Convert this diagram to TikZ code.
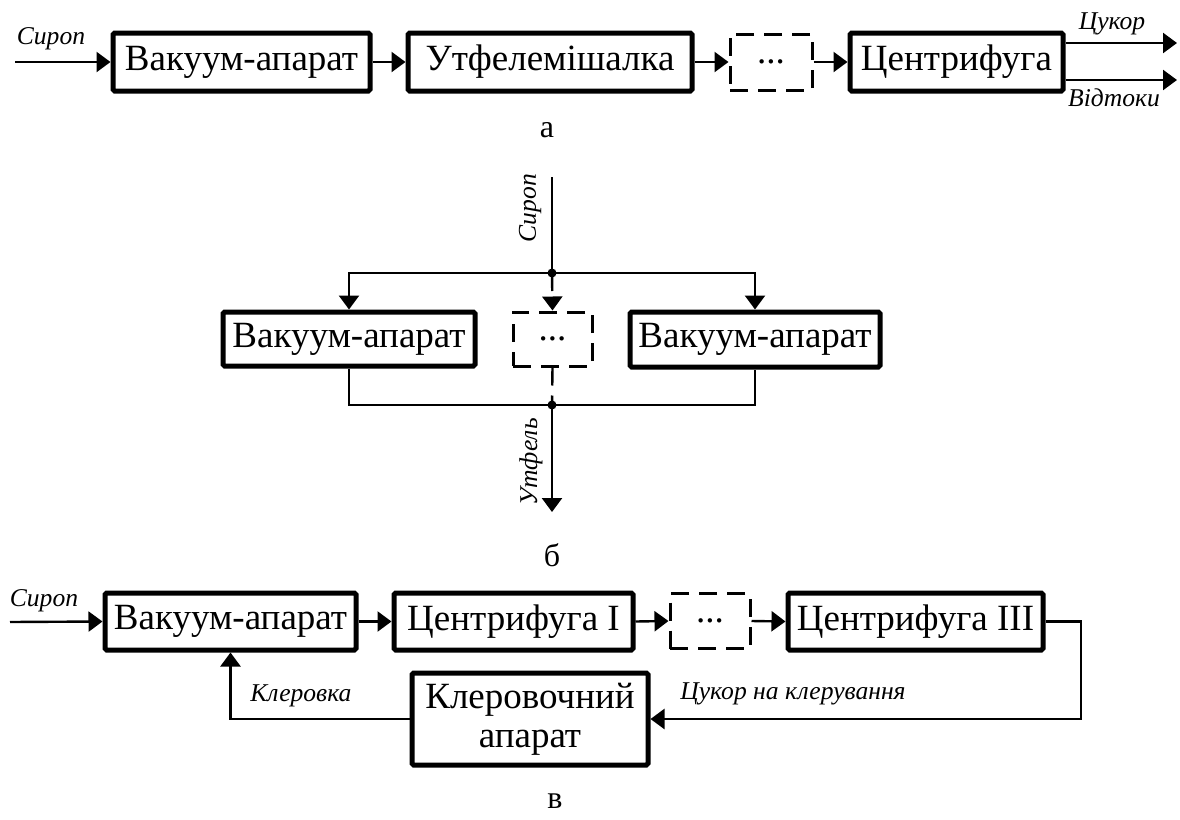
\documentclass[tikz,border=0pt]{standalone}
\usepackage{fontspec}
\setmainfont{Liberation Serif}
\usetikzlibrary{arrows.meta}
\tikzset{
  box/.style={draw, line width=2.5pt, rounded corners=0.8pt, fill=white, inner sep=0pt,
    font=\fontsize{18.5}{19.5}\selectfont, align=center},
  dbox/.style={draw, line width=1.5pt, dash pattern=on 9pt off 5pt, inner sep=0pt,
    font=\fontsize{18.5}{19.5}\selectfont},
  conn/.style={line width=1.2pt},
  arr/.style={conn, -{Triangle[length=7pt,width=10pt]}},
  lbl/.style={font=\fontsize{12.8}{13}\selectfont\itshape, inner sep=0pt},
  sub/.style={font=\fontsize{16}{17}\selectfont, inner sep=0pt},
  dot/.style={fill, circle, inner sep=0pt, minimum size=4.5pt}
}
\begin{document}
\begin{tikzpicture}[x=0.5pt,y=-0.5pt]
\useasboundingbox (0,0) rectangle (1180,820);
% ---------- a ----------
\node[box, minimum width=128.5pt, minimum height=29pt] (a1) at (241.5,62) {Вакуум-апарат};
\node[box, minimum width=142pt, minimum height=29pt] (a2) at (550,62) {Утфелемішалка};
\node[dbox, minimum width=41pt, minimum height=28pt] (ad) at (771,62) {...};
\node[box, minimum width=106.5pt, minimum height=29pt] (a3) at (956.5,62) {Центрифуга};
\coordinate (ain) at (15,62);
\coordinate (aout1) at (1177,43);
\coordinate (aout2) at (1177,80);
\draw[arr] (ain) -- (a1.west);
\draw[arr] (a1.east) -- (a2.west);
\draw[arr] (a2.east) -- (ad.west);
\draw[arr] (ad.east) -- (a3.west);
\draw[arr] (a3.east |- aout1) -- (aout1);
\draw[arr] (a3.east |- aout2) -- (aout2);
\node[lbl] (la1) at (51,39) {Сироп};
\node[lbl] (la2) at (1112,24) {Цукор};
\node[lbl] (la3) at (1114,98) {Відтоки};
\node[sub] (sa) at (547,130) {а};
% ---------- b ----------
\coordinate (bin) at (552,177);
\node[dot] (bj1) at (552,273) {};
\node[box, minimum width=126pt, minimum height=27pt] (b1) at (349,339) {Вакуум-апарат};
\node[dbox, minimum width=39.5pt, minimum height=27pt] (bd) at (552.5,339) {...};
\node[box, minimum width=125pt, minimum height=27.5pt] (b2) at (755,339.5) {Вакуум-апарат};
\node[dot] (bj2) at (552,405) {};
\coordinate (bout) at (552,512);
\draw[conn] (bin) -- (bj1.center);
\draw[arr] (bj1.center) -| (b1.north);
\draw[arr] (bj1.center) -| (b2.north);
\draw[arr, dash pattern=on 9pt off 5pt] (bj1.center) -- (bd.north);
\draw[conn] (b1.south) |- (bj2.center) -| (b2.south);
\draw[conn, dash pattern=on 9pt off 5pt] (bd.south) -- (bj2.center);
\draw[arr] (bj2.center) -- (bout);
\node[lbl, rotate=90] (lb1) at (530,208) {Сироп};
\node[lbl, rotate=90] (lb2) at (531,462) {Утфель};
\node[sub] (sb) at (552,555) {б};
% ---------- c ----------
\node[box, minimum width=125.5pt, minimum height=28.5pt] (c1) at (230.5,621.5) {Вакуум-апарат};
\node[box, minimum width=119.5pt, minimum height=28.5pt] (c2) at (513.5,621.5) {Центрифуга I};
\node[dbox, minimum width=40pt, minimum height=27.5pt] (cd) at (710,621) {...};
\node[box, minimum width=127.5pt, minimum height=28.5pt] (c3) at (915.5,621.5) {Центрифуга III};
\node[box, minimum width=118pt, minimum height=46pt] (c4) at (530,719) {Клеровочний\\апарат};
\coordinate (cin) at (10,622);
\coordinate (ccr) at (1081,719);
\draw[arr] (cin) -- (c1.west);
\draw[arr] (c1.east) -- (c2.west);
\draw[arr] (c2.east) -- (cd.west);
\draw[arr] (cd.east) -- (c3.west);
\draw[arr] (c3.east) -| (ccr) -- (c4.east);
\draw[arr] (c4.west) -| (c1.south);
\node[lbl] (lc1) at (44,601) {Сироп};
\node[lbl] (lc2) at (301,696) {Клеровка};
\node[lbl] (lc3) at (793,694) {Цукор на клерування};
\node[sub] (sc) at (555,801) {в};
\end{tikzpicture}
\end{document}
